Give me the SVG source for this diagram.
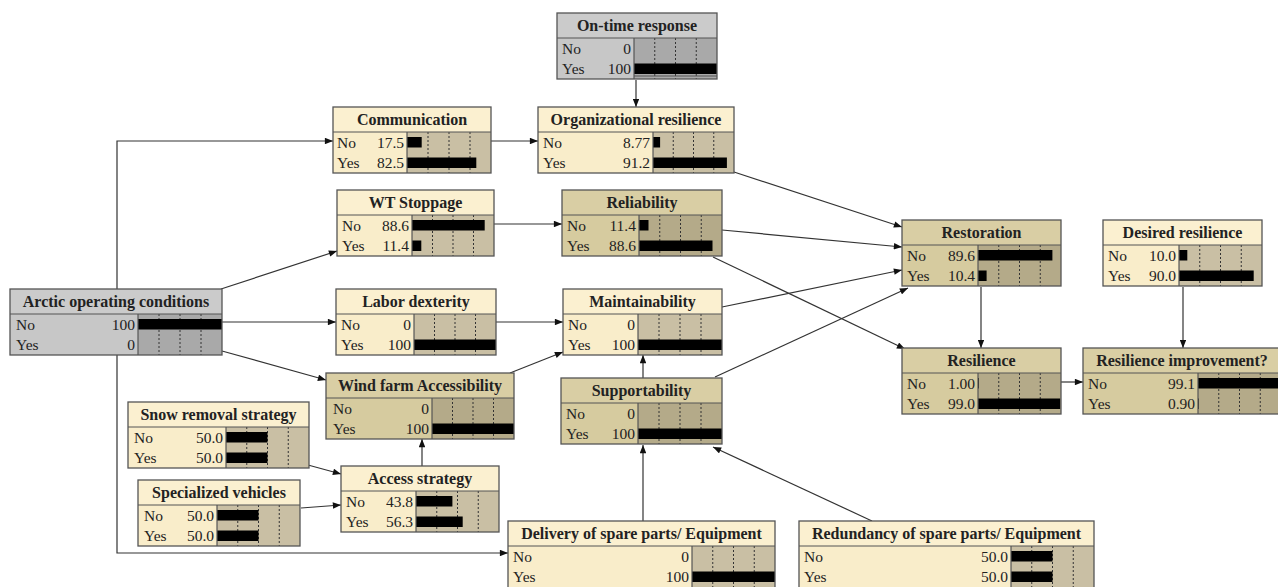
<svg xmlns="http://www.w3.org/2000/svg" width="1278" height="587" viewBox="0 0 1278 587">
<style>
.tg{fill:#cbcbcb}.lg{fill:#c7c7c7}.bg{fill:#a9a9a9}
.tc{fill:#fbf0d0}.lc{fill:#f9edca}.bc{fill:#c9bfa4}
.tt{fill:#d9cea4}.lt{fill:#d6cb9f}.bt{fill:#b4aa89}
.fr{fill:none;stroke:#555;stroke-width:1.3}
.sep{stroke:#555;stroke-width:1.2}
.gr{stroke:#333;stroke-width:1;stroke-dasharray:2 2}
.bar{fill:#000}
.ti{font-family:"Liberation Serif",serif;font-weight:bold;font-size:16px;fill:#222;text-anchor:middle}
.lb{font-family:"Liberation Serif",serif;font-size:15.5px;fill:#222}
.vl{font-family:"Liberation Serif",serif;font-size:15.5px;fill:#222;text-anchor:end}
.cn{fill:none;stroke:#333;stroke-width:1.2}
</style>
<defs>
<marker id="arr" viewBox="0 0 10 8" refX="10" refY="4" markerWidth="9" markerHeight="6.5" orient="auto" markerUnits="userSpaceOnUse"><path d="M0,0 L10,4 L0,8 z" fill="#111"/></marker>
</defs>
<rect width="1278" height="587" fill="#fff"/>
<g id="connectors" class="cn" marker-end="url(#arr)">
<line x1="636" y1="80" x2="636" y2="107"/>
<line x1="491" y1="141" x2="538" y2="141"/>
<polyline points="117,289 117,141 333,141"/>
<polyline points="117,355 117,553 508,553"/>
<line x1="221" y1="289" x2="337" y2="251"/>
<line x1="222" y1="322" x2="336" y2="322"/>
<line x1="222" y1="351" x2="326" y2="380"/>
<line x1="494" y1="224" x2="562" y2="224"/>
<line x1="496" y1="322" x2="563" y2="322"/>
<line x1="510" y1="373" x2="563" y2="352"/>
<line x1="643" y1="378" x2="643" y2="355"/>
<line x1="734" y1="172" x2="902" y2="227"/>
<line x1="722" y1="230" x2="902" y2="247"/>
<line x1="713" y1="257" x2="905" y2="349"/>
<line x1="722" y1="307" x2="902" y2="270"/>
<line x1="715" y1="377" x2="908" y2="288"/>
<line x1="981" y1="287" x2="981" y2="348"/>
<line x1="1183" y1="287" x2="1183" y2="348"/>
<line x1="1061" y1="382" x2="1083" y2="382"/>
<line x1="308" y1="465" x2="341" y2="474"/>
<line x1="301" y1="508" x2="341" y2="505"/>
<line x1="422" y1="466" x2="422" y2="439"/>
<line x1="643" y1="521" x2="643" y2="445"/>
<line x1="872" y1="521" x2="713" y2="447"/>
</g>

<g id="n-ontime">
<rect class="tg" x="557" y="13" width="160" height="25"/>
<rect class="lg" x="557" y="38" width="77" height="41"/>
<rect class="bg" x="634" y="38" width="83" height="41"/>
<line class="gr" x1="654.75" y1="38" x2="654.75" y2="79"/><line class="gr" x1="675.5" y1="38" x2="675.5" y2="79"/><line class="gr" x1="696.25" y1="38" x2="696.25" y2="79"/>
<rect class="bar" x="634" y="63.5" width="83" height="10.5"/>
<line class="sep" x1="634" y1="76" x2="717" y2="76"/>
<rect class="fr" x="557" y="13" width="160" height="66"/>
<line class="sep" x1="557" y1="38" x2="717" y2="38"/><line class="sep" x1="634" y1="38" x2="634" y2="79"/>
<text class="ti" x="637" y="31">On-time response</text>
<text class="lb" x="562" y="53.5">No</text><text class="vl" x="631" y="53.5">0</text>
<text class="lb" x="562" y="74">Yes</text><text class="vl" x="631" y="74">100</text>
</g>

<g id="n-comm">
<rect class="tc" x="333" y="107" width="158" height="25"/>
<rect class="lc" x="333" y="132" width="74" height="41"/>
<rect class="bc" x="407" y="132" width="84" height="41"/>
<line class="gr" x1="428" y1="132" x2="428" y2="173"/><line class="gr" x1="449" y1="132" x2="449" y2="173"/><line class="gr" x1="470" y1="132" x2="470" y2="173"/>
<rect class="bar" x="407" y="137" width="14.7" height="10.5"/>
<rect class="bar" x="407" y="157.5" width="69.3" height="10.5"/>
<rect class="fr" x="333" y="107" width="158" height="66"/>
<line class="sep" x1="333" y1="132" x2="491" y2="132"/><line class="sep" x1="407" y1="132" x2="407" y2="173"/>
<text class="ti" x="412" y="125">Communication</text>
<text class="lb" x="337" y="147.5">No</text><text class="vl" x="404" y="147.5">17.5</text>
<text class="lb" x="337" y="168">Yes</text><text class="vl" x="404" y="168">82.5</text>
</g>

<g id="n-org">
<rect class="tc" x="538" y="107" width="196" height="25"/>
<rect class="lc" x="538" y="132" width="115" height="41"/>
<rect class="bc" x="653" y="132" width="81" height="41"/>
<line class="gr" x1="673.25" y1="132" x2="673.25" y2="173"/><line class="gr" x1="693.5" y1="132" x2="693.5" y2="173"/><line class="gr" x1="713.75" y1="132" x2="713.75" y2="173"/>
<rect class="bar" x="653" y="137" width="7.1" height="10.5"/>
<rect class="bar" x="653" y="157.5" width="73.9" height="10.5"/>
<rect class="fr" x="538" y="107" width="196" height="66"/>
<line class="sep" x1="538" y1="132" x2="734" y2="132"/><line class="sep" x1="653" y1="132" x2="653" y2="173"/>
<text class="ti" x="636" y="125">Organizational resilience</text>
<text class="lb" x="543" y="147.5">No</text><text class="vl" x="650" y="147.5">8.77</text>
<text class="lb" x="543" y="168">Yes</text><text class="vl" x="650" y="168">91.2</text>
</g>

<g id="n-wt">
<rect class="tc" x="337" y="190" width="157" height="25"/>
<rect class="lc" x="337" y="215" width="75" height="41"/>
<rect class="bc" x="412" y="215" width="82" height="41"/>
<line class="gr" x1="432.5" y1="215" x2="432.5" y2="256"/><line class="gr" x1="453" y1="215" x2="453" y2="256"/><line class="gr" x1="473.5" y1="215" x2="473.5" y2="256"/>
<rect class="bar" x="412" y="220" width="72.7" height="10.5"/>
<rect class="bar" x="412" y="240.5" width="9.3" height="10.5"/>
<rect class="fr" x="337" y="190" width="157" height="66"/>
<line class="sep" x1="337" y1="215" x2="494" y2="215"/><line class="sep" x1="412" y1="215" x2="412" y2="256"/>
<text class="ti" x="415.5" y="208">WT Stoppage</text>
<text class="lb" x="342" y="230.5">No</text><text class="vl" x="409" y="230.5">88.6</text>
<text class="lb" x="342" y="251">Yes</text><text class="vl" x="409" y="251">11.4</text>
</g>

<g id="n-reliability">
<rect class="tt" x="562" y="190" width="160" height="25"/>
<rect class="lt" x="562" y="215" width="77" height="41"/>
<rect class="bt" x="639" y="215" width="83" height="41"/>
<line class="gr" x1="659.75" y1="215" x2="659.75" y2="256"/><line class="gr" x1="680.5" y1="215" x2="680.5" y2="256"/><line class="gr" x1="701.25" y1="215" x2="701.25" y2="256"/>
<rect class="bar" x="639" y="220" width="9.5" height="10.5"/>
<rect class="bar" x="639" y="240.5" width="73.5" height="10.5"/>
<rect class="fr" x="562" y="190" width="160" height="66"/>
<line class="sep" x1="562" y1="215" x2="722" y2="215"/><line class="sep" x1="639" y1="215" x2="639" y2="256"/>
<text class="ti" x="642" y="208">Reliability</text>
<text class="lb" x="567" y="230.5">No</text><text class="vl" x="636" y="230.5">11.4</text>
<text class="lb" x="567" y="251">Yes</text><text class="vl" x="636" y="251">88.6</text>
</g>

<g id="n-restoration">
<rect class="tt" x="902" y="220" width="159" height="25"/>
<rect class="lt" x="902" y="245" width="76" height="41"/>
<rect class="bt" x="978" y="245" width="83" height="41"/>
<line class="gr" x1="998.75" y1="245" x2="998.75" y2="286"/><line class="gr" x1="1019.5" y1="245" x2="1019.5" y2="286"/><line class="gr" x1="1040.25" y1="245" x2="1040.25" y2="286"/>
<rect class="bar" x="978" y="250" width="74.4" height="10.5"/>
<rect class="bar" x="978" y="270.5" width="8.6" height="10.5"/>
<rect class="fr" x="902" y="220" width="159" height="66"/>
<line class="sep" x1="902" y1="245" x2="1061" y2="245"/><line class="sep" x1="978" y1="245" x2="978" y2="286"/>
<text class="ti" x="981.5" y="238">Restoration</text>
<text class="lb" x="907" y="260.5">No</text><text class="vl" x="975" y="260.5">89.6</text>
<text class="lb" x="907" y="281">Yes</text><text class="vl" x="975" y="281">10.4</text>
</g>

<g id="n-desired">
<rect class="tc" x="1103" y="220" width="159" height="25"/>
<rect class="lc" x="1103" y="245" width="76" height="41"/>
<rect class="bc" x="1179" y="245" width="83" height="41"/>
<line class="gr" x1="1199.75" y1="245" x2="1199.75" y2="286"/><line class="gr" x1="1220.5" y1="245" x2="1220.5" y2="286"/><line class="gr" x1="1241.25" y1="245" x2="1241.25" y2="286"/>
<rect class="bar" x="1179" y="250" width="8.3" height="10.5"/>
<rect class="bar" x="1179" y="270.5" width="74.7" height="10.5"/>
<rect class="fr" x="1103" y="220" width="159" height="66"/>
<line class="sep" x1="1103" y1="245" x2="1262" y2="245"/><line class="sep" x1="1179" y1="245" x2="1179" y2="286"/>
<text class="ti" x="1182.5" y="238">Desired resilience</text>
<text class="lb" x="1108" y="260.5">No</text><text class="vl" x="1176" y="260.5">10.0</text>
<text class="lb" x="1108" y="281">Yes</text><text class="vl" x="1176" y="281">90.0</text>
</g>

<g id="n-resilience">
<rect class="tt" x="902" y="348" width="159" height="25"/>
<rect class="lt" x="902" y="373" width="76" height="41"/>
<rect class="bt" x="978" y="373" width="83" height="41"/>
<line class="gr" x1="998.75" y1="373" x2="998.75" y2="414"/><line class="gr" x1="1019.5" y1="373" x2="1019.5" y2="414"/><line class="gr" x1="1040.25" y1="373" x2="1040.25" y2="414"/>
<rect class="bar" x="978" y="378" width="0.8" height="10.5"/>
<rect class="bar" x="978" y="398.5" width="82.2" height="10.5"/>
<rect class="fr" x="902" y="348" width="159" height="66"/>
<line class="sep" x1="902" y1="373" x2="1061" y2="373"/><line class="sep" x1="978" y1="373" x2="978" y2="414"/>
<text class="ti" x="981.5" y="366">Resilience</text>
<text class="lb" x="907" y="388.5">No</text><text class="vl" x="975" y="388.5">1.00</text>
<text class="lb" x="907" y="409">Yes</text><text class="vl" x="975" y="409">99.0</text>
</g>

<g id="n-improvement">
<rect class="tt" x="1083" y="348" width="198" height="25"/>
<rect class="lt" x="1083" y="373" width="115" height="41"/>
<rect class="bt" x="1198" y="373" width="83" height="41"/>
<line class="gr" x1="1218.75" y1="373" x2="1218.75" y2="414"/><line class="gr" x1="1239.5" y1="373" x2="1239.5" y2="414"/><line class="gr" x1="1260.25" y1="373" x2="1260.25" y2="414"/>
<rect class="bar" x="1198" y="378" width="82.3" height="10.5"/>
<rect class="bar" x="1198" y="398.5" width="0.7" height="10.5"/>
<rect class="fr" x="1083" y="348" width="198" height="66"/>
<line class="sep" x1="1083" y1="373" x2="1281" y2="373"/><line class="sep" x1="1198" y1="373" x2="1198" y2="414"/>
<text class="ti" x="1182" y="366">Resilience improvement?</text>
<text class="lb" x="1088" y="388.5">No</text><text class="vl" x="1195" y="388.5">99.1</text>
<text class="lb" x="1088" y="409">Yes</text><text class="vl" x="1195" y="409">0.90</text>
</g>

<g id="n-arctic">
<rect class="tg" x="10" y="289" width="212" height="25"/>
<rect class="lg" x="10" y="314" width="128" height="41"/>
<rect class="bg" x="138" y="314" width="84" height="41"/>
<line class="gr" x1="159" y1="314" x2="159" y2="355"/><line class="gr" x1="180" y1="314" x2="180" y2="355"/><line class="gr" x1="201" y1="314" x2="201" y2="355"/>
<rect class="bar" x="138" y="319" width="84" height="10.5"/>
<rect class="fr" x="10" y="289" width="212" height="66"/>
<line class="sep" x1="10" y1="314" x2="222" y2="314"/><line class="sep" x1="138" y1="314" x2="138" y2="355"/>
<text class="ti" x="116" y="307">Arctic operating conditions</text>
<text class="lb" x="16" y="329.5">No</text><text class="vl" x="135" y="329.5">100</text>
<text class="lb" x="16" y="350">Yes</text><text class="vl" x="135" y="350">0</text>
</g>

<g id="n-labor">
<rect class="tc" x="336" y="289" width="160" height="25"/>
<rect class="lc" x="336" y="314" width="78" height="41"/>
<rect class="bc" x="414" y="314" width="82" height="41"/>
<line class="gr" x1="434.5" y1="314" x2="434.5" y2="355"/><line class="gr" x1="455" y1="314" x2="455" y2="355"/><line class="gr" x1="475.5" y1="314" x2="475.5" y2="355"/>
<rect class="bar" x="414" y="339.5" width="82" height="10.5"/>
<rect class="fr" x="336" y="289" width="160" height="66"/>
<line class="sep" x1="336" y1="314" x2="496" y2="314"/><line class="sep" x1="414" y1="314" x2="414" y2="355"/>
<text class="ti" x="416" y="307">Labor dexterity</text>
<text class="lb" x="341" y="329.5">No</text><text class="vl" x="411" y="329.5">0</text>
<text class="lb" x="341" y="350">Yes</text><text class="vl" x="411" y="350">100</text>
</g>

<g id="n-maint">
<rect class="tc" x="563" y="289" width="159" height="25"/>
<rect class="lc" x="563" y="314" width="75" height="41"/>
<rect class="bc" x="638" y="314" width="84" height="41"/>
<line class="gr" x1="659" y1="314" x2="659" y2="355"/><line class="gr" x1="680" y1="314" x2="680" y2="355"/><line class="gr" x1="701" y1="314" x2="701" y2="355"/>
<rect class="bar" x="638" y="339.5" width="84" height="10.5"/>
<rect class="fr" x="563" y="289" width="159" height="66"/>
<line class="sep" x1="563" y1="314" x2="722" y2="314"/><line class="sep" x1="638" y1="314" x2="638" y2="355"/>
<text class="ti" x="642.5" y="307">Maintainability</text>
<text class="lb" x="568" y="329.5">No</text><text class="vl" x="635" y="329.5">0</text>
<text class="lb" x="568" y="350">Yes</text><text class="vl" x="635" y="350">100</text>
</g>

<g id="n-windfarm">
<rect class="tt" x="326" y="373" width="188" height="25"/>
<rect class="lt" x="326" y="398" width="106" height="41"/>
<rect class="bt" x="432" y="398" width="82" height="41"/>
<line class="gr" x1="452.5" y1="398" x2="452.5" y2="439"/><line class="gr" x1="473" y1="398" x2="473" y2="439"/><line class="gr" x1="493.5" y1="398" x2="493.5" y2="439"/>
<rect class="bar" x="432" y="423.5" width="82" height="10.5"/>
<rect class="fr" x="326" y="373" width="188" height="66"/>
<line class="sep" x1="326" y1="398" x2="514" y2="398"/><line class="sep" x1="432" y1="398" x2="432" y2="439"/>
<text class="ti" x="420" y="391">Wind farm Accessibility</text>
<text class="lb" x="333" y="413.5">No</text><text class="vl" x="429" y="413.5">0</text>
<text class="lb" x="333" y="434">Yes</text><text class="vl" x="429" y="434">100</text>
</g>

<g id="n-support">
<rect class="tt" x="561" y="378" width="161" height="25"/>
<rect class="lt" x="561" y="403" width="77" height="41"/>
<rect class="bt" x="638" y="403" width="84" height="41"/>
<line class="gr" x1="659" y1="403" x2="659" y2="444"/><line class="gr" x1="680" y1="403" x2="680" y2="444"/><line class="gr" x1="701" y1="403" x2="701" y2="444"/>
<rect class="bar" x="638" y="428.5" width="84" height="10.5"/>
<rect class="fr" x="561" y="378" width="161" height="66"/>
<line class="sep" x1="561" y1="403" x2="722" y2="403"/><line class="sep" x1="638" y1="403" x2="638" y2="444"/>
<text class="ti" x="641.5" y="396">Supportability</text>
<text class="lb" x="566" y="418.5">No</text><text class="vl" x="635" y="418.5">0</text>
<text class="lb" x="566" y="439">Yes</text><text class="vl" x="635" y="439">100</text>
</g>

<g id="n-snow">
<rect class="tc" x="128" y="402" width="181" height="25"/>
<rect class="lc" x="128" y="427" width="98" height="41"/>
<rect class="bc" x="226" y="427" width="83" height="41"/>
<line class="gr" x1="246.75" y1="427" x2="246.75" y2="468"/><line class="gr" x1="267.5" y1="427" x2="267.5" y2="468"/><line class="gr" x1="288.25" y1="427" x2="288.25" y2="468"/>
<rect class="bar" x="226" y="432" width="41.5" height="10.5"/>
<rect class="bar" x="226" y="452.5" width="41.5" height="10.5"/>
<rect class="fr" x="128" y="402" width="181" height="66"/>
<line class="sep" x1="128" y1="427" x2="309" y2="427"/><line class="sep" x1="226" y1="427" x2="226" y2="468"/>
<text class="ti" x="218.5" y="420">Snow removal strategy</text>
<text class="lb" x="134" y="442.5">No</text><text class="vl" x="223" y="442.5">50.0</text>
<text class="lb" x="134" y="463">Yes</text><text class="vl" x="223" y="463">50.0</text>
</g>

<g id="n-vehicles">
<rect class="tc" x="138" y="480" width="162" height="25"/>
<rect class="lc" x="138" y="505" width="79" height="41"/>
<rect class="bc" x="217" y="505" width="83" height="41"/>
<line class="gr" x1="237.75" y1="505" x2="237.75" y2="546"/><line class="gr" x1="258.5" y1="505" x2="258.5" y2="546"/><line class="gr" x1="279.25" y1="505" x2="279.25" y2="546"/>
<rect class="bar" x="217" y="510" width="41.5" height="10.5"/>
<rect class="bar" x="217" y="530.5" width="41.5" height="10.5"/>
<rect class="fr" x="138" y="480" width="162" height="66"/>
<line class="sep" x1="138" y1="505" x2="300" y2="505"/><line class="sep" x1="217" y1="505" x2="217" y2="546"/>
<text class="ti" x="219" y="498">Specialized vehicles</text>
<text class="lb" x="144" y="520.5">No</text><text class="vl" x="214" y="520.5">50.0</text>
<text class="lb" x="144" y="541">Yes</text><text class="vl" x="214" y="541">50.0</text>
</g>

<g id="n-access">
<rect class="tc" x="341" y="466" width="158" height="25"/>
<rect class="lc" x="341" y="491" width="75" height="41"/>
<rect class="bc" x="416" y="491" width="83" height="41"/>
<line class="gr" x1="436.75" y1="491" x2="436.75" y2="532"/><line class="gr" x1="457.5" y1="491" x2="457.5" y2="532"/><line class="gr" x1="478.25" y1="491" x2="478.25" y2="532"/>
<rect class="bar" x="416" y="496" width="36.4" height="10.5"/>
<rect class="bar" x="416" y="516.5" width="46.7" height="10.5"/>
<rect class="fr" x="341" y="466" width="158" height="66"/>
<line class="sep" x1="341" y1="491" x2="499" y2="491"/><line class="sep" x1="416" y1="491" x2="416" y2="532"/>
<text class="ti" x="420" y="484">Access strategy</text>
<text class="lb" x="346" y="506.5">No</text><text class="vl" x="413" y="506.5">43.8</text>
<text class="lb" x="346" y="527">Yes</text><text class="vl" x="413" y="527">56.3</text>
</g>

<g id="n-delivery">
<rect class="tc" x="508" y="521" width="267" height="25"/>
<rect class="lc" x="508" y="546" width="184" height="45"/>
<rect class="bc" x="692" y="546" width="83" height="45"/>
<line class="gr" x1="712.75" y1="546" x2="712.75" y2="591"/><line class="gr" x1="733.5" y1="546" x2="733.5" y2="591"/><line class="gr" x1="754.25" y1="546" x2="754.25" y2="591"/>
<rect class="bar" x="692" y="571.5" width="83" height="10.5"/>
<rect class="fr" x="508" y="521" width="267" height="70"/>
<line class="sep" x1="508" y1="546" x2="775" y2="546"/><line class="sep" x1="692" y1="546" x2="692" y2="591"/>
<text class="ti" x="641.5" y="539">Delivery of spare parts/ Equipment</text>
<text class="lb" x="513" y="561.5">No</text><text class="vl" x="689" y="561.5">0</text>
<text class="lb" x="513" y="582">Yes</text><text class="vl" x="689" y="582">100</text>
</g>

<g id="n-redundancy">
<rect class="tc" x="799" y="521" width="295" height="25"/>
<rect class="lc" x="799" y="546" width="212" height="45"/>
<rect class="bc" x="1011" y="546" width="83" height="45"/>
<line class="gr" x1="1031.75" y1="546" x2="1031.75" y2="591"/><line class="gr" x1="1052.5" y1="546" x2="1052.5" y2="591"/><line class="gr" x1="1073.25" y1="546" x2="1073.25" y2="591"/>
<rect class="bar" x="1011" y="551" width="41.5" height="10.5"/>
<rect class="bar" x="1011" y="571.5" width="41.5" height="10.5"/>
<rect class="fr" x="799" y="521" width="295" height="70"/>
<line class="sep" x1="799" y1="546" x2="1094" y2="546"/><line class="sep" x1="1011" y1="546" x2="1011" y2="591"/>
<text class="ti" x="946.5" y="539">Redundancy of spare parts/ Equipment</text>
<text class="lb" x="804" y="561.5">No</text><text class="vl" x="1008" y="561.5">50.0</text>
<text class="lb" x="804" y="582">Yes</text><text class="vl" x="1008" y="582">50.0</text>
</g>
</svg>
